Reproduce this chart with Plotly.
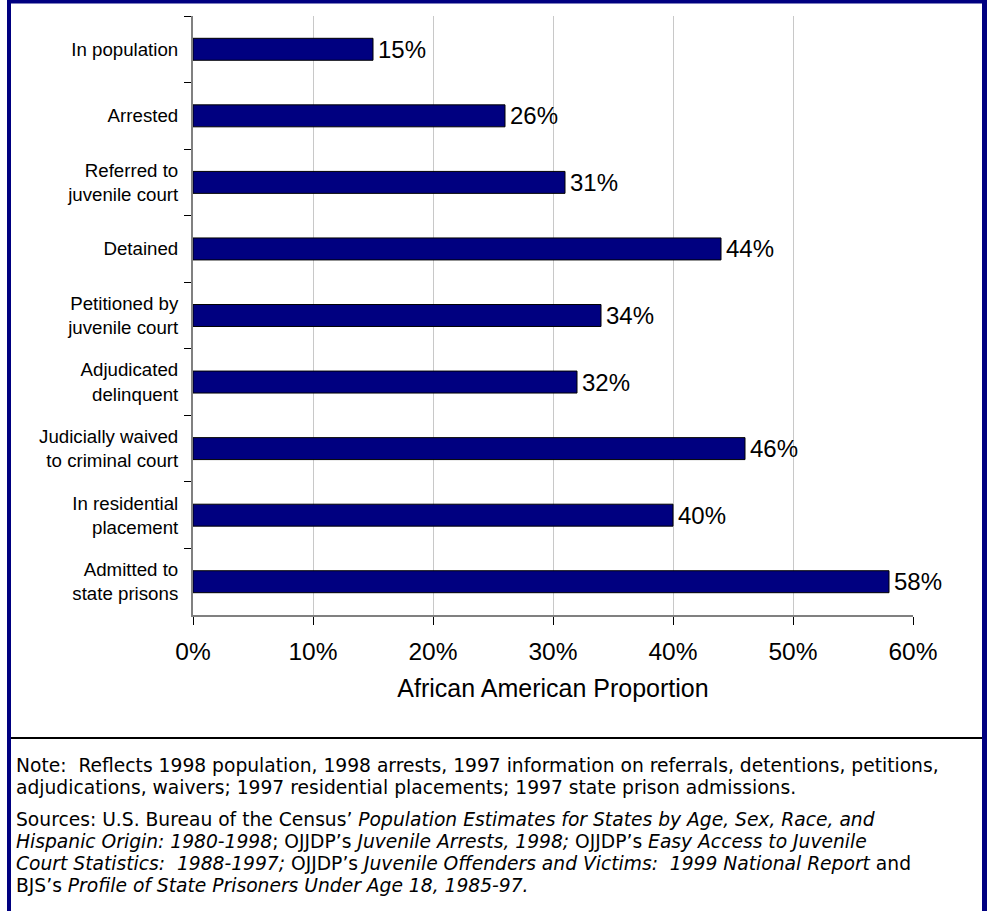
import plotly.graph_objects as go

W, H = 987, 911

categories = [
    "In population",
    "Arrested",
    "Referred to<br>juvenile court",
    "Detained",
    "Petitioned by<br>juvenile court",
    "Adjudicated<br>delinquent",
    "Judicially waived<br>to criminal court",
    "In residential<br>placement",
    "Admitted to<br>state prisons",
]
values = [15, 26, 31, 44, 34, 32, 46, 40, 58]
x_ticks = [0, 10, 20, 30, 40, 50, 60]
x_tick_labels = ["0%", "10%", "20%", "30%", "40%", "50%", "60%"]

note_lines = [
    "Note:  Reflects 1998 population, 1998 arrests, 1997 information on referrals, detentions, petitions,",
    "adjudications, waivers; 1997 residential placements; 1997 state prison admissions.",
]
source_lines = [
    "Sources: U.S. Bureau of the Census\u2019 <i>Population Estimates for States by Age, Sex, Race, and</i>",
    "<i>Hispanic Origin: 1980-1998</i>; OJJDP\u2019s <i>Juvenile Arrests, 1998;</i> OJJDP\u2019s <i>Easy Access to Juvenile</i>",
    "<i>Court Statistics:  1988-1997;</i> OJJDP\u2019s <i>Juvenile Offenders and Victims:  1999 National Report</i> and",
    "BJS\u2019s <i>Profile of State Prisoners Under Age 18, 1985-97.</i>",
]

def px(x):
    return x / W

def py(y):
    return 1 - y / H

FONT = "Liberation Sans, Arial, sans-serif"
NOTE_FONT = "DejaVu Sans, Liberation Sans, Arial, sans-serif"

fig = go.Figure(go.Bar(
    x=values, y=categories, orientation="h",
    marker=dict(color="#000080", line=dict(color="#000000", width=1)),
    text=[f"\u200a{v}%" for v in values], textposition="outside", constraintext="none",
    textfont=dict(size=24, color="#000000", family=FONT),
    cliponaxis=False, width=0.33,
))

fig.update_layout(
    template="none",
    width=W, height=H, margin=dict(l=0, r=0, t=0, b=0, pad=0, autoexpand=False),
    paper_bgcolor="white", plot_bgcolor="white", showlegend=False,
    font=dict(family=FONT, color="#000000"),
    xaxis=dict(domain=[px(193), px(913)], range=[0, 60], tickvals=x_ticks, ticktext=x_tick_labels,
               automargin=False,
               showgrid=True, gridcolor="#c8c8c8", gridwidth=1, zeroline=False,
               showline=True, linecolor="#808080", linewidth=2,
               ticks="outside", ticklen=8, tickcolor="#000000", tickwidth=1,
               tickfont=dict(size=24.5), ticklabelstandoff=6,
               title=dict(text="African American Proportion", font=dict(size=25), standoff=15)),
    yaxis=dict(domain=[py(615), py(16)], autorange="reversed", type="category",
               automargin=False,
               showline=True, linecolor="#808080", linewidth=2, showgrid=False, zeroline=False,
               ticks="outside", tickson="boundaries", ticklen=7, tickcolor="#000000", tickwidth=1,
               tickfont=dict(size=18.7), ticklabelstandoff=9),
    bargap=0.67,
)

# notes, one annotation per line
for i, line in enumerate(note_lines):
    fig.add_annotation(text=line, xref="paper", yref="paper", x=px(14), y=py(765 + 22 * i),
                       xanchor="left", yanchor="middle", align="left", showarrow=False,
                       font=dict(size=18.7, color="#000000", family=NOTE_FONT))
for i, line in enumerate(source_lines):
    fig.add_annotation(text=line, xref="paper", yref="paper", x=px(14), y=py(819 + 22 * i),
                       xanchor="left", yanchor="middle", align="left", showarrow=False,
                       font=dict(size=18.7, color="#000000", family=NOTE_FONT))

# separator line and navy frame
fig.add_shape(type="line", xref="paper", yref="paper", x0=px(10), x1=px(983), y0=py(738), y1=py(738),
              line=dict(color="#000000", width=2))
navy = "#000080"
fig.add_shape(type="rect", xref="paper", yref="paper", x0=px(7), x1=px(11), y0=0, y1=1,
              fillcolor=navy, line=dict(width=0))
fig.add_shape(type="rect", xref="paper", yref="paper", x0=px(982), x1=1, y0=0, y1=1,
              fillcolor=navy, line=dict(width=0))
fig.add_shape(type="rect", xref="paper", yref="paper", x0=px(7), x1=1, y0=py(3.5), y1=1,
              fillcolor=navy, line=dict(width=0))

fig.write_html("out.html", config={"displayModeBar": False},
               post_script="document.body.style.margin='0';document.body.style.overflow='hidden';")
